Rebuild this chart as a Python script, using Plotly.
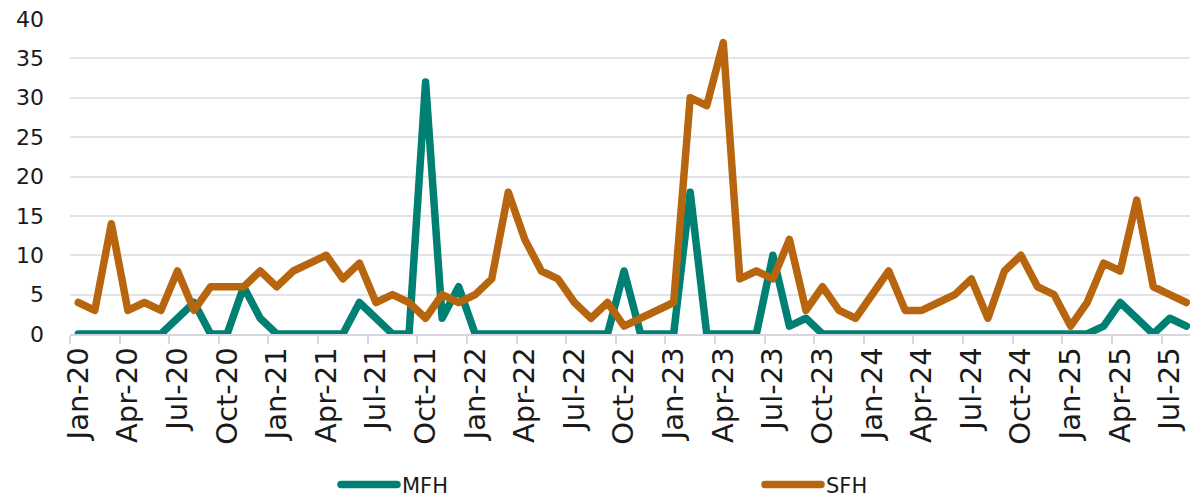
import plotly.graph_objects as go

# Monthly counts, Jan-2020 through Aug-2025
years = ["20", "21", "22", "23", "24", "25"]
month_names = ["Jan", "Feb", "Mar", "Apr", "May", "Jun",
               "Jul", "Aug", "Sep", "Oct", "Nov", "Dec"]
months = [f"{m}-{y}" for y in years for m in month_names][:68]

mfh = [0, 0, 0, 0, 0, 0, 2, 4, 0, 0, 6, 2,
       0, 0, 0, 0, 0, 4, 2, 0, 0, 32, 2, 6,
       0, 0, 0, 0, 0, 0, 0, 0, 0, 8, 0, 0,
       0, 18, 0, 0, 0, 0, 10, 1, 2, 0, 0, 0,
       0, 0, 0, 0, 0, 0, 0, 0, 0, 0, 0, 0,
       0, 0, 1, 4, 2, 0, 2, 1]

sfh = [4, 3, 14, 3, 4, 3, 8, 3, 6, 6, 6, 8,
       6, 8, 9, 10, 7, 9, 4, 5, 4, 2, 5, 4,
       5, 7, 18, 12, 8, 7, 4, 2, 4, 1, 2, 3,
       4, 30, 29, 37, 7, 8, 7, 12, 3, 6, 3, 2,
       5, 8, 3, 3, 4, 5, 7, 2, 8, 10, 6, 5,
       1, 4, 9, 8, 17, 6, 5, 4]

y_ticks = [0, 5, 10, 15, 20, 25, 30, 35, 40]

TEAL = "#007F73"
ORANGE = "#B8650F"
GRID = "#E3E3E8"
TICK = "#D6D6E0"
FONT = "DejaVu Sans"

fig = go.Figure()
fig.add_trace(go.Scatter(x=months, y=mfh, name="MFH", mode="lines",
                         line=dict(color=TEAL, width=7.5), cliponaxis=False))
fig.add_trace(go.Scatter(x=months, y=sfh, name="SFH", mode="lines",
                         line=dict(color=ORANGE, width=7.5), cliponaxis=False))

fig.update_layout(
    width=1190, height=500,
    margin=dict(l=70, r=0, t=19, b=166, autoexpand=False),
    paper_bgcolor="white", plot_bgcolor="white",
    font=dict(family=FONT, size=21, color="#1a1a1a"),
    showlegend=True,
    legend=dict(orientation="h", x=0.2375, xanchor="left", y=-0.479,
                yanchor="middle", font=dict(size=21), entrywidth=353,
                itemwidth=56, traceorder="normal"),
    xaxis=dict(type="category", range=[-0.5, 67.22], tickson="boundaries",
               tickmode="linear", tick0=0, dtick=3, tickangle=-90,
               ticks="outside", ticklen=8, tickwidth=1.5, tickcolor=TICK,
               showgrid=False, showline=True, linecolor=TICK, linewidth=1.5,
               automargin=False, tickfont=dict(size=29)),
    yaxis=dict(range=[0, 40], tickvals=y_ticks, showgrid=True,
               gridcolor=GRID, gridwidth=1.7, zeroline=False,
               showline=False, ticks="", ticklabelstandoff=25,
               automargin=False, tickfont=dict(size=22)),
)

js = ("document.querySelectorAll('.js-line, .legendlines path').forEach("
      "function(p){p.style.strokeLinejoin='round';p.style.strokeLinecap='round';});")
fig.write_html("out.html", post_script=js)
